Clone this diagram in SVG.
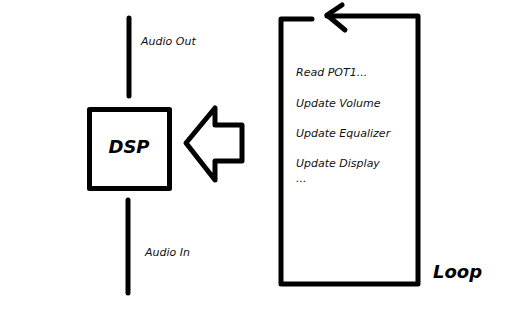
<svg xmlns="http://www.w3.org/2000/svg" width="507" height="315" viewBox="0 0 507 315">
  <style>
    .ln { fill: none; stroke: #000; stroke-width: 5; stroke-linecap: round; stroke-linejoin: round; }
    .lbl { font-family: "DejaVu Sans", Verdana, sans-serif; font-style: italic; font-size: 11px; fill: #111; }
    .big { font-family: "DejaVu Sans", Verdana, sans-serif; font-style: italic; font-weight: bold; font-size: 18px; fill: #000; }
  </style>
  <rect width="507" height="315" fill="#fff"/>

  <g id="connectors">
    <!-- audio output line -->
    <line class="ln" x1="129" y1="18" x2="129" y2="96"/>
    <!-- audio input line -->
    <line class="ln" x1="128" y1="200" x2="128" y2="293"/>
    <!-- hollow arrow pointing into DSP -->
    <path class="ln" d="M186,143 L215,108 L215,125 L242,125 L242,161 L215,161 L215,180 Z" stroke-width="4.5"/>
  </g>

  <g id="dsp">
    <rect class="ln" x="89.5" y="109.5" width="80" height="79" stroke-linecap="butt" stroke-linejoin="miter"/>
    <text class="big" x="129" y="153" text-anchor="middle">DSP</text>
  </g>

  <g id="audio-out">
    <text class="lbl" x="141" y="45">Audio Out</text>
  </g>

  <g id="audio-in">
    <text class="lbl" x="145" y="256">Audio In</text>
  </g>

  <g id="loop">
    <path class="ln" d="M312,19 L281,19 L281,284 L418,284 L418,16 L327,16"/>
    <path class="ln" d="M342,5 L327,15 L345,30"/>
    <text class="lbl" x="296" y="76">Read POT1...</text>
    <text class="lbl" x="296" y="107">Update Volume</text>
    <text class="lbl" x="296" y="137">Update Equalizer</text>
    <text class="lbl" x="296" y="167">Update Display</text>
    <text class="lbl" x="296" y="182">...</text>
    <text class="big" x="433" y="278">Loop</text>
  </g>
</svg>
